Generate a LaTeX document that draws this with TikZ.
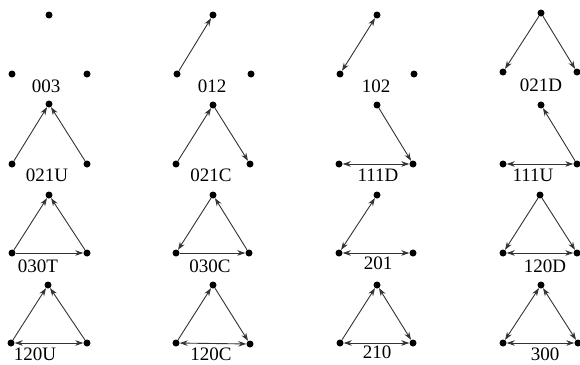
\documentclass[tikz,border=0pt]{standalone}
\usepackage{fontspec}
\setmainfont{Liberation Serif}
\usetikzlibrary{arrows.meta}
\tikzset{
  dot/.style={circle,fill=black,inner sep=0pt,minimum size=7pt},
  lab/.style={inner sep=0pt,font=\fontsize{19}{22}\selectfont},
  edge/.style={draw=black!80,line width=0.9pt},
  ar/.style={edge,-{Stealth[length=8pt,width=5.5pt]}},
  br/.style={edge,{Stealth[length=8pt,width=5.5pt]}-{Stealth[length=8pt,width=5.5pt]}}
}
\begin{document}
\begin{tikzpicture}[x=1pt,y=-1pt]
\useasboundingbox (0,0) rectangle (580,364);
% row 1
\node[dot] (t1) at (49,15) {}; \node[dot] (l1) at (12,74) {}; \node[dot] (r1) at (87,74) {};
\node[lab] (n1) at (46,86) {003};
\node[dot] (t2) at (213,15) {}; \node[dot] (l2) at (177,74) {}; \node[dot] (r2) at (251,74) {};
\node[lab] (n2) at (212,86) {012};
\node[dot] (t3) at (377,15) {}; \node[dot] (l3) at (340,74) {}; \node[dot] (r3) at (414,74) {};
\node[lab] (n3) at (376,86) {102};
\node[dot] (t4) at (541,13) {}; \node[dot] (l4) at (503,72) {}; \node[dot] (r4) at (577,72) {};
\node[lab] (n4) at (541,85) {021D};
\draw[ar] (l2) -- (t2);
\draw[br] (t3) -- (l3);
\draw[ar] (t4) -- (l4); \draw[ar] (t4) -- (r4);
% row 2
\node[dot] (t5) at (49,104) {}; \node[dot] (l5) at (12,164) {}; \node[dot] (r5) at (87,164) {};
\node[lab] (n5) at (47,175) {021U};
\node[dot] (t6) at (213,105) {}; \node[dot] (l6) at (176,164) {}; \node[dot] (r6) at (250,164) {};
\node[lab] (n6) at (211,175) {021C};
\node[dot] (t7) at (377,105) {}; \node[dot] (l7) at (339,164) {}; \node[dot] (r7) at (413,164) {};
\node[lab] (n7) at (378,175) {111D};
\node[dot] (t8) at (541,105) {}; \node[dot] (l8) at (503,164) {}; \node[dot] (r8) at (577,164) {};
\node[lab] (n8) at (533,175) {111U};
\draw[ar] (l5) -- (t5); \draw[ar] (r5) -- (t5);
\draw[ar] (l6) -- (t6); \draw[ar] (t6) -- (r6);
\draw[ar] (t7) -- (r7); \draw[br] (l7) -- (r7);
\draw[ar] (r8) -- (t8); \draw[br] (l8) -- (r8);
% row 3
\node[dot] (t9) at (49,195) {}; \node[dot] (l9) at (12,253) {}; \node[dot] (r9) at (87,253) {};
\node[lab] (n9) at (38,266) {030T};
\node[dot] (t10) at (213,195) {}; \node[dot] (l10) at (176,253) {}; \node[dot] (r10) at (249,253) {};
\node[lab] (n10) at (210,266) {030C};
\node[dot] (t11) at (377,195) {}; \node[dot] (l11) at (339,253) {}; \node[dot] (r11) at (413,253) {};
\node[lab] (n11) at (378,263) {201};
\node[dot] (t12) at (540,195) {}; \node[dot] (l12) at (503,253) {}; \node[dot] (r12) at (577,253) {};
\node[lab] (n12) at (545,266) {120D};
\draw[ar] (l9) -- (t9); \draw[ar] (r9) -- (t9); \draw[ar] (l9) -- (r9);
\draw[ar] (t10) -- (l10); \draw[ar] (r10) -- (t10); \draw[ar] (l10) -- (r10);
\draw[br] (l11) -- (t11); \draw[br] (l11) -- (r11);
\draw[ar] (t12) -- (l12); \draw[ar] (t12) -- (r12); \draw[br] (l12) -- (r12);
% row 4
\node[dot] (t13) at (48,285) {}; \node[dot] (l13) at (11,343) {}; \node[dot] (r13) at (87,343) {};
\node[lab] (n13) at (35,354) {120U};
\node[dot] (t14) at (213,285) {}; \node[dot] (l14) at (176,343) {}; \node[dot] (r14) at (250,344) {};
\node[lab] (n14) at (211,354.5) {120C};
\node[dot] (t15) at (377,285) {}; \node[dot] (l15) at (340,343) {}; \node[dot] (r15) at (413,343) {};
\node[lab] (n15) at (377,352) {210};
\node[dot] (t16) at (541,285) {}; \node[dot] (l16) at (503,343) {}; \node[dot] (r16) at (578,343) {};
\node[lab] (n16) at (545,354) {300};
\draw[ar] (l13) -- (t13); \draw[ar] (r13) -- (t13); \draw[br] (l13) -- (r13);
\draw[ar] (l14) -- (t14); \draw[ar] (t14) -- (r14); \draw[br] (l14) -- (r14);
\draw[ar] (l15) -- (t15); \draw[br] (t15) -- (r15); \draw[br] (l15) -- (r15);
\draw[br] (l16) -- (t16); \draw[br] (t16) -- (r16); \draw[br] (l16) -- (r16);
\end{tikzpicture}
\end{document}
